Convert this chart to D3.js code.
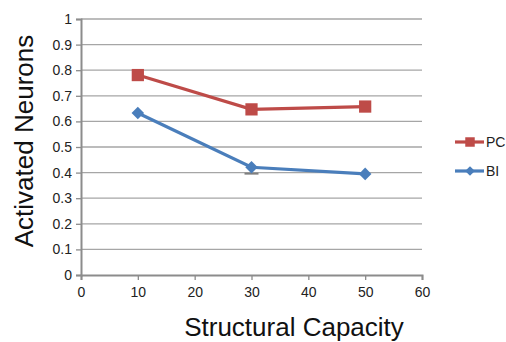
<!DOCTYPE html>
<html>
<head>
<meta charset="utf-8">
<script src="https://cdn.jsdelivr.net/npm/d3@7"></script>
<style>
  body { margin: 0; background: #fff; }
  text { font-family: "Liberation Sans", Arial, sans-serif; }
</style>
</head>
<body>
<div id="chart"></div>
<script>
// data
const capacity = [10, 30, 50];
const pcValues = [0.781, 0.647, 0.658];
const biValues = [0.633, 0.421, 0.395];
const biErrors = [0, 0.025, 0];
const xTicks = [0, 10, 20, 30, 40, 50, 60];
const yTicks = [0, 0.1, 0.2, 0.3, 0.4, 0.5, 0.6, 0.7, 0.8, 0.9, 1];

const W = 506, H = 342;
const margin = {top: 19, right: 84, bottom: 67, left: 81};
const width = W - margin.left - margin.right;
const height = H - margin.top - margin.bottom;

const svg = d3.select("#chart").append("svg")
    .attr("width", W)
    .attr("height", H);

const g = svg.append("g")
    .attr("transform", `translate(${margin.left},${margin.top})`);

const x = d3.scaleLinear().domain([0, 60]).range([0, width]);
const y = d3.scaleLinear().domain([0, 1]).range([height, 0]);

// gridlines
g.selectAll(".grid")
    .data(yTicks.filter(d => d > 0))
    .enter().append("line")
    .attr("x1", 0).attr("x2", width)
    .attr("y1", d => y(d)).attr("y2", d => y(d))
    .attr("stroke", "#a6a6a6")
    .attr("stroke-width", 1.3);

// axes
const yAxis = g.append("g")
    .call(d3.axisLeft(y).tickValues(yTicks).tickSize(5).tickFormat(d => d === 0 || d === 1 ? d : d3.format(".1f")(d)));
const xAxis = g.append("g")
    .attr("transform", `translate(0,${height})`)
    .call(d3.axisBottom(x).tickValues(xTicks).tickSize(5));

[xAxis, yAxis].forEach(a => {
    a.select(".domain").attr("stroke", "#8c8c8c").attr("stroke-width", 2);
    a.selectAll(".tick line").attr("stroke", "#8c8c8c").attr("stroke-width", 1.3);
    a.selectAll(".tick text").attr("fill", "#222").style("font-size", "14px");
});
yAxis.selectAll(".tick text").attr("x", -9);
xAxis.selectAll(".tick text").attr("y", 12);

// error bars for BI
capacity.forEach((c, i) => {
    if (biErrors[i] > 0) {
        g.append("line")
            .attr("x1", x(c)).attr("x2", x(c))
            .attr("y1", y(biValues[i] - biErrors[i])).attr("y2", y(biValues[i]))
            .attr("stroke", "#7f7f7f").attr("stroke-width", 1);
        g.append("line")
            .attr("x1", x(c) - 7).attr("x2", x(c) + 7)
            .attr("y1", y(biValues[i] - biErrors[i])).attr("y2", y(biValues[i] - biErrors[i]))
            .attr("stroke", "#7f7f7f").attr("stroke-width", 2);
    }
});

const series = [
    {name: "PC", values: pcValues, color: "#be4b48", symbol: d3.symbolSquare, size: 150},
    {name: "BI", values: biValues, color: "#4a7ebb", symbol: d3.symbolDiamond2, size: 100}
];

const line = d3.line()
    .x(d => x(d[0]))
    .y(d => y(d[1]));

series.forEach(s => {
    const pts = capacity.map((c, i) => [c, s.values[i]]);
    g.append("path")
        .datum(pts)
        .attr("fill", "none")
        .attr("stroke", s.color)
        .attr("stroke-width", 3.2)
        .attr("d", line);
    g.selectAll(null)
        .data(pts)
        .enter().append("path")
        .attr("transform", d => `translate(${x(d[0])},${y(d[1])})`)
        .attr("d", d3.symbol().type(s.symbol).size(s.size))
        .attr("fill", s.color);
});

// legend
const legend = svg.append("g").attr("transform", "translate(455,142)");
series.forEach((s, i) => {
    const row = legend.append("g").attr("transform", `translate(0,${i * 29})`);
    row.append("line")
        .attr("x1", 0).attr("x2", 29)
        .attr("stroke", s.color).attr("stroke-width", 3.2);
    row.append("path")
        .attr("transform", "translate(15,0)")
        .attr("d", d3.symbol().type(s.symbol).size(s.symbol === d3.symbolSquare ? 90 : 60))
        .attr("fill", s.color);
    row.append("text")
        .attr("x", 31).attr("y", 5)
        .style("font-size", "14px")
        .attr("fill", "#222")
        .text(s.name);
});

// axis titles
svg.append("text")
    .attr("transform", `translate(33,141) rotate(-90)`)
    .attr("text-anchor", "middle")
    .style("font-size", "26px")
    .attr("fill", "#111")
    .text("Activated Neurons");

svg.append("text")
    .attr("x", 294)
    .attr("y", 336)
    .attr("text-anchor", "middle")
    .style("font-size", "26px")
    .attr("fill", "#111")
    .text("Structural Capacity");
</script>
</body>
</html>
